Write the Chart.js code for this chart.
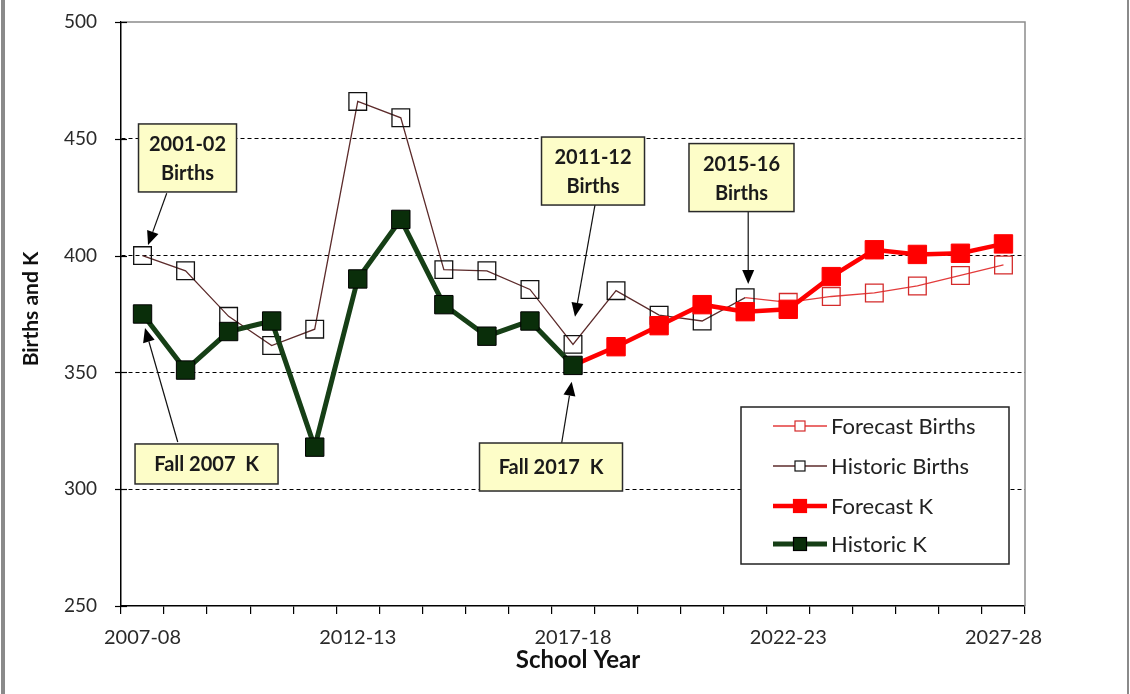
<!DOCTYPE html>
<html>
<head>
<meta charset="utf-8">
<script src="https://cdn.jsdelivr.net/npm/chart.js@4"></script>
<style>
  html, body { margin: 0; padding: 0; background: #fff; }
  #wrap { width: 1130px; height: 694px; }
</style>
</head>
<body>
<div id="wrap"><canvas id="chart" width="1130" height="694"></canvas></div>
<script>

// categories
const school_years = ['2007-08', '2008-09', '2009-10', '2010-11', '2011-12', '2012-13', '2013-14',
    '2014-15', '2015-16', '2016-17', '2017-18', '2018-19', '2019-20', '2020-21', '2021-22',
    '2022-23', '2023-24', '2024-25', '2025-26', '2026-27', '2027-28'];

// series
const historic_births = [400, 393.5, 374, 361.5, 368.5, 466, 459, 394, 393.5, 385.5, 362,
    385, 374.5, 372, 382, null, null, null, null, null, null];
const forecast_births = [null, null, null, null, null, null, null, null, null, null, null,
    null, null, null, 382, 380, 382.5, 384, 387, 391.5, 396];
const historic_k = [375, 351, 367.5, 372, 318, 390, 415.5, 379, 365.5, 372, 353,
    null, null, null, null, null, null, null, null, null, null];
const forecast_k = [null, null, null, null, null, null, null, null, null, null, 353,
    361, 370, 379, 376, 377, 391, 402.5, 400.5, 401, 405];

// axis
const y_min = 250;
const y_max = 500;
const y_step = 50;
const label_every = 5;

// callouts (box centre / arrow in category index + value)
const callout_texts = [['2001-02', 'Births'], ['Fall 2007  K'], ['2011-12', 'Births'], ['Fall 2017  K'], ['2015-16', 'Births']];
const callout_box = [[1.045, 441.8], [1.487, 310.8], [10.465, 436.2], [9.489, 309.5], [13.914, 433.4]];
const callout_from = [[0.562, 426.7], [0.818, 320.2], [10.511, 421.7], [9.737, 319.8], [14.07, 418.8]];
const callout_to = [[0.128, 404.5], [0.058, 369.0], [10.046, 373.8], [9.970, 346.0], [14.07, 387.8]];
const callout_size = [[98, 68], [143, 40], [103, 68], [143, 48], [105, 68]];

const FONT = 'Lato, "Open Sans", sans-serif';

const green_line = '#163f16';
const green_fill = '#0a2e0a';
const red = '#ff0000';
const births_line = '#5c2b2b';
const fbirths_line = '#e33b3b';
const fbirths_point = '#d42a2a';


function hideAt(index, r){
    return ctx => ctx.dataIndex === index ? 0 : r;
}


function drawArrow(ctx, x1, y1, x2, y2){

    const ang = Math.atan2(y2 - y1, x2 - x1);
    const len = 14;
    const half = 6;

    ctx.strokeStyle = '#111';
    ctx.lineWidth = 1.2;
    ctx.beginPath();
    ctx.moveTo(x1, y1);
    ctx.lineTo(x2 - Math.cos(ang) * len, y2 - Math.sin(ang) * len);
    ctx.stroke();

    ctx.fillStyle = '#000';
    ctx.beginPath();
    ctx.moveTo(x2, y2);
    ctx.lineTo(x2 - Math.cos(ang) * len - Math.sin(ang) * half, y2 - Math.sin(ang) * len + Math.cos(ang) * half);
    ctx.lineTo(x2 - Math.cos(ang) * len + Math.sin(ang) * half, y2 - Math.sin(ang) * len - Math.cos(ang) * half);
    ctx.closePath();
    ctx.fill();

}


function drawLegendRow(ctx, y, text, lineColor, lineWidth, pointFill, pointBorder, side){

    ctx.strokeStyle = lineColor;
    ctx.lineWidth = lineWidth;
    ctx.beginPath();
    ctx.moveTo(773, y);
    ctx.lineTo(827, y);
    ctx.stroke();

    ctx.fillStyle = pointFill;
    ctx.fillRect(800 - side / 2, y - side / 2, side, side);
    ctx.strokeStyle = pointBorder;
    ctx.lineWidth = 1.2;
    ctx.strokeRect(800 - side / 2, y - side / 2, side, side);

    ctx.fillStyle = '#222';
    ctx.font = '22px ' + FONT;
    ctx.textAlign = 'left';
    ctx.textBaseline = 'middle';
    ctx.fillText(text, 831, y + 1);

}


const decorations = {

    id: 'decorations',

    beforeDraw(chart){
        const ctx = chart.ctx;
        ctx.save();
        ctx.fillStyle = '#fff';
        ctx.fillRect(0, 0, chart.width, chart.height);
        // outer frame
        ctx.fillStyle = '#8a8a8a';
        ctx.fillRect(1, 0, 4, chart.height);
        ctx.fillRect(1127, 0, 2, chart.height);
        ctx.restore();
    },

    afterDraw(chart){

        const ctx = chart.ctx;
        const area = chart.chartArea;
        const xs = chart.scales.x;
        const ys = chart.scales.y;

        ctx.save();

        // plot border top / right
        ctx.strokeStyle = '#8c8c8c';
        ctx.lineWidth = 1.5;
        ctx.beginPath();
        ctx.moveTo(area.left, area.top);
        ctx.lineTo(area.right, area.top);
        ctx.lineTo(area.right, area.bottom);
        ctx.stroke();

        // y ticks crossing the axis
        ctx.strokeStyle = '#000';
        ctx.lineWidth = 1.2;
        for(let v = y_min; v <= y_max; v += y_step){
            const py = Math.round(ys.getPixelForValue(v)) + 0.5;
            ctx.beginPath();
            ctx.moveTo(area.left - 6, py);
            ctx.lineTo(area.left + 6, py);
            ctx.stroke();
        }

        // axis titles
        ctx.fillStyle = '#111';
        ctx.font = 'bold 24px ' + FONT;
        ctx.textAlign = 'center';
        ctx.textBaseline = 'middle';
        ctx.fillText('School Year', (area.left + area.right) / 2 + 5, 660);

        ctx.save();
        ctx.font = 'bold 21px ' + FONT;
        ctx.translate(31, (area.top + area.bottom) / 2 - 5);
        ctx.rotate(-Math.PI / 2);
        ctx.fillText('Births and K', 0, 0);
        ctx.restore();

        // callouts
        for(let i = 0; i < callout_texts.length; i++){

            const fx = xs.getPixelForValue(callout_from[i][0]);
            const fy = ys.getPixelForValue(callout_from[i][1]);
            const tx = xs.getPixelForValue(callout_to[i][0]);
            const ty = ys.getPixelForValue(callout_to[i][1]);
            drawArrow(ctx, fx, fy, tx, ty);

            const cx = xs.getPixelForValue(callout_box[i][0]);
            const cy = ys.getPixelForValue(callout_box[i][1]);
            const w = callout_size[i][0];
            const h = callout_size[i][1];

            ctx.fillStyle = '#fdfdc8';
            ctx.fillRect(cx - w / 2, cy - h / 2, w, h);
            ctx.strokeStyle = '#2a2a2a';
            ctx.lineWidth = 1.5;
            ctx.strokeRect(cx - w / 2, cy - h / 2, w, h);

            ctx.fillStyle = '#1a1a1a';
            ctx.font = 'bold 20px ' + FONT;
            ctx.textAlign = 'center';
            ctx.textBaseline = 'middle';
            const lines = callout_texts[i];
            const lh = 29;
            lines.forEach((t, j) => {
                ctx.fillText(t, cx, cy + (j - (lines.length - 1) / 2) * lh + 1);
            });

        }

        // legend
        ctx.fillStyle = '#fff';
        ctx.fillRect(741, 407, 268, 157);
        ctx.strokeStyle = '#222';
        ctx.lineWidth = 1.5;
        ctx.strokeRect(741, 407, 268, 157);

        drawLegendRow(ctx, 426, 'Forecast Births', fbirths_line, 1.3, '#fff', fbirths_point, 10);
        drawLegendRow(ctx, 466, 'Historic Births', births_line, 1.3, '#fff', '#111', 10);
        drawLegendRow(ctx, 506, 'Forecast K', red, 4.5, red, red, 13);
        drawLegendRow(ctx, 544, 'Historic K', green_line, 5, green_fill, '#000', 13);

        ctx.restore();

    }

};


Chart.defaults.font.family = FONT;

let chart = new Chart(document.getElementById('chart'), {

    type: 'line',
    data: {

        labels: school_years,

        datasets: [
            {
                label: 'Forecast Births',
                data: forecast_births,
                order: 3,
                borderColor: fbirths_line,
                borderWidth: 1.3,
                pointStyle: 'rect',
                pointRadius: hideAt(14, 12.5),
                pointBorderColor: fbirths_point,
                pointBorderWidth: 1.3,
                pointBackgroundColor: 'rgba(0,0,0,0)',
                fill: false
            },
            {
                label: 'Historic Births',
                data: historic_births,
                order: 2,
                borderColor: births_line,
                borderWidth: 1.3,
                pointStyle: 'rect',
                pointRadius: 12.5,
                pointBorderColor: '#111',
                pointBorderWidth: 1.3,
                pointBackgroundColor: 'rgba(0,0,0,0)',
                fill: false
            },
            {
                label: 'Forecast K',
                data: forecast_k,
                order: 1,
                borderColor: red,
                borderWidth: 4.5,
                pointStyle: 'rect',
                pointRadius: hideAt(10, 13),
                pointBorderColor: red,
                pointBorderWidth: 1,
                pointBackgroundColor: red,
                fill: false
            },
            {
                label: 'Historic K',
                data: historic_k,
                order: 0,
                borderColor: green_line,
                borderWidth: 5,
                pointStyle: 'rect',
                pointRadius: 13,
                pointBorderColor: '#000',
                pointBorderWidth: 1,
                pointBackgroundColor: green_fill,
                fill: false
            }
        ]

    },
    options: {

        responsive: false,
        animation: false,
        spanGaps: false,

        layout: { padding: { left: 0, top: 22, right: 105, bottom: 0 } },

        plugins: {
            legend: { display: false },
            tooltip: { enabled: false }
        },

        scales: {
            x: {
                offset: true,
                grid: {
                    offset: true,
                    drawOnChartArea: false,
                    tickLength: 8,
                    color: '#000',
                    lineWidth: 1.2
                },
                border: { color: '#000', width: 1.5 },
                ticks: {
                    autoSkip: false,
                    maxRotation: 0,
                    padding: 12,
                    color: '#2a2a2a',
                    font: { size: 20 },
                    callback: (val, idx) => idx % label_every === 0 ? school_years[idx] : ''
                },
                afterFit: scale => { scale.height = 88; }
            },
            y: {
                min: y_min,
                max: y_max,
                grid: {
                    color: ctx => (ctx.tick && (ctx.tick.value === y_min || ctx.tick.value === y_max)) ? 'rgba(0,0,0,0)' : '#000',
                    tickColor: 'rgba(0,0,0,0)',
                    tickLength: 24,
                    lineWidth: 1
                },
                border: { color: '#000', width: 1.5, dash: [4, 3] },
                ticks: {
                    stepSize: y_step,
                    padding: 0,
                    color: '#2a2a2a',
                    font: { size: 19 }
                },
                afterFit: scale => { scale.width = 121; }
            }
        }

    },
    plugins: [decorations]

});

</script>
</body>
</html>
